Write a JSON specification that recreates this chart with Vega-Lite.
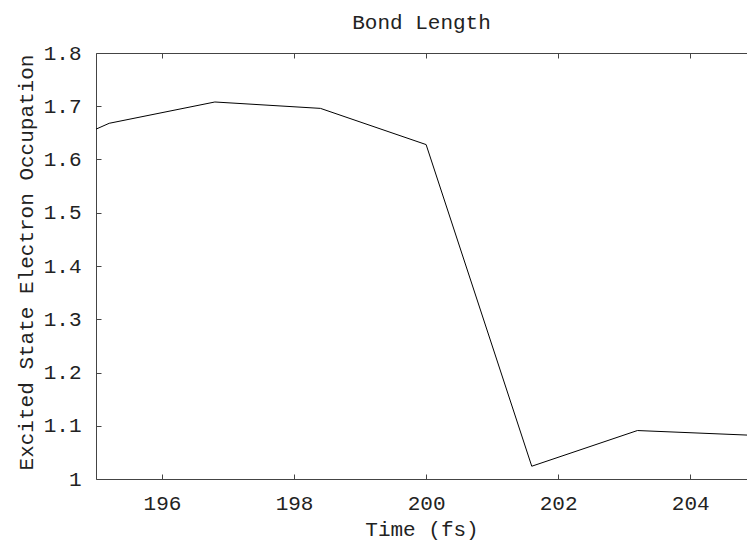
{
  "$schema": "https://vega.github.io/schema/vega-lite/v6.json",
  "width": 651,
  "height": 426,
  "autosize": {"type": "none"},
  "padding": {"left": 96, "top": 53, "right": 0, "bottom": 67},
  "background": "white",
  "config": {
    "view": {"stroke": null},
    "font": "Liberation Mono",
    "axis": {
      "domainColor": "#444",
      "tickColor": "#444",
      "labelColor": "#222",
      "titleColor": "#222",
      "titleFontWeight": "normal",
      "grid": false,
      "labelFont": "Liberation Mono",
      "titleFont": "Liberation Mono"
    }
  },
  "title": {
    "text": "Bond Length",
    "font": "Liberation Mono",
    "fontSize": 21,
    "fontWeight": "normal",
    "color": "#222",
    "offset": 9
  },
  "data": {
    "values": [
      {"time": 195.0, "occupation": 1.657},
      {"time": 195.2, "occupation": 1.668},
      {"time": 196.8, "occupation": 1.708},
      {"time": 198.4, "occupation": 1.696},
      {"time": 200.0, "occupation": 1.628},
      {"time": 201.6, "occupation": 1.024},
      {"time": 203.2, "occupation": 1.091},
      {"time": 204.86, "occupation": 1.0825}
    ]
  },
  "resolve": {"axis": {"x": "independent"}},
  "layer": [
    {
      "mark": {"type": "line", "color": "black", "strokeWidth": 1, "clip": true},
      "encoding": {
        "x": {
          "field": "time",
          "type": "quantitative",
          "scale": {"domain": [195, 204.86], "nice": false, "zero": false},
          "axis": {
            "orient": "bottom",
            "title": "Time (fs)",
            "values": [196, 198, 200, 202, 204],
            "tickSize": -5,
            "labelPadding": 18,
            "labelFontSize": 21,
            "titleFontSize": 21,
            "titleBaseline": "alphabetic",
            "titleY": 56
          }
        },
        "y": {
          "field": "occupation",
          "type": "quantitative",
          "scale": {"domain": [1, 1.8], "nice": false, "zero": false},
          "axis": {
            "title": "Excited State Electron Occupation",
            "values": [1, 1.1, 1.2, 1.3, 1.4, 1.5, 1.6, 1.7, 1.8],
            "format": ".2~f",
            "tickSize": -5,
            "labelPadding": 20,
            "labelFontSize": 21,
            "titleFontSize": 21,
            "titleBaseline": "middle",
            "titleX": -70,
            "titleY": 209
          }
        }
      }
    },
    {
      "mark": {"type": "line", "opacity": 0},
      "encoding": {
        "x": {
          "field": "time",
          "type": "quantitative",
          "axis": {
            "orient": "top",
            "title": null,
            "labels": false,
            "values": [196, 198, 200, 202, 204],
            "tickSize": -5
          }
        },
        "y": {"field": "occupation", "type": "quantitative"}
      }
    }
  ]
}
